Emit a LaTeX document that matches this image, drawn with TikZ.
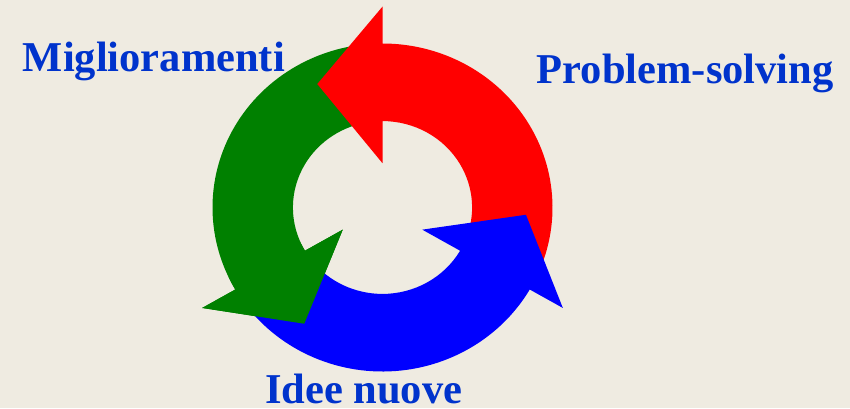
\documentclass[tikz,border=0pt]{standalone}
\usepackage{fontspec}
\setmainfont{Liberation Serif}
\definecolor{bgc}{HTML}{EFEBE1}
\definecolor{txtblue}{HTML}{0033CC}
\definecolor{cgreen}{HTML}{008000}
\definecolor{cred}{HTML}{FF0000}
\definecolor{cblue}{HTML}{0000FF}
\tikzset{
  lbl/.style={anchor=base west, inner sep=0pt, text=txtblue, font=\fontsize{42.5}{42.5}\selectfont\bfseries},
}
% #1 tail angle, #2 base angle, #3 tip angle
\newcommand{\cyclearrow}[3]{%
  (#1:1) arc[start angle=#1, end angle=#2, x radius=170pt, y radius=164pt]
  -- (#2:1.225) -- (#3:0.845) -- (#2:0.27) -- (#2:0.527)
  arc[start angle=#2, end angle=#1, x radius=89.6pt, y radius=86.4pt] -- cycle}
\begin{document}
\begin{tikzpicture}[x=1pt,y=1pt]
\fill[bgc] (0,0) rectangle (850,-408);
\useasboundingbox (0,0) rectangle (850,-408);
\begin{scope}[shift={(382.5pt,-207.5pt)}, x=170pt, y=164pt]
  \fill[cgreen] \cyclearrow{98}{210}{237};
  \fill[cred] \cyclearrow{-22}{90}{117};
  \fill[cblue] \cyclearrow{218}{330}{357};
  % green head again, over the tail of the blue arrow
  \fill[cgreen] (205:1) arc[start angle=205, end angle=210, x radius=170pt, y radius=164pt]
     -- (210:1.225) -- (237:0.845) -- (210:0.27) -- (210:0.527)
     arc[start angle=210, end angle=205, x radius=89.6pt, y radius=86.4pt] -- cycle;
\end{scope}
\node[lbl] (migl) at (22.7,-71.7) {Miglioramenti};
\node[lbl] (prob) at (536.7,-83.3) {Problem-solving};
\node[lbl] (idee) at (265,-403.3) {Idee nuove};
\end{tikzpicture}
\end{document}
